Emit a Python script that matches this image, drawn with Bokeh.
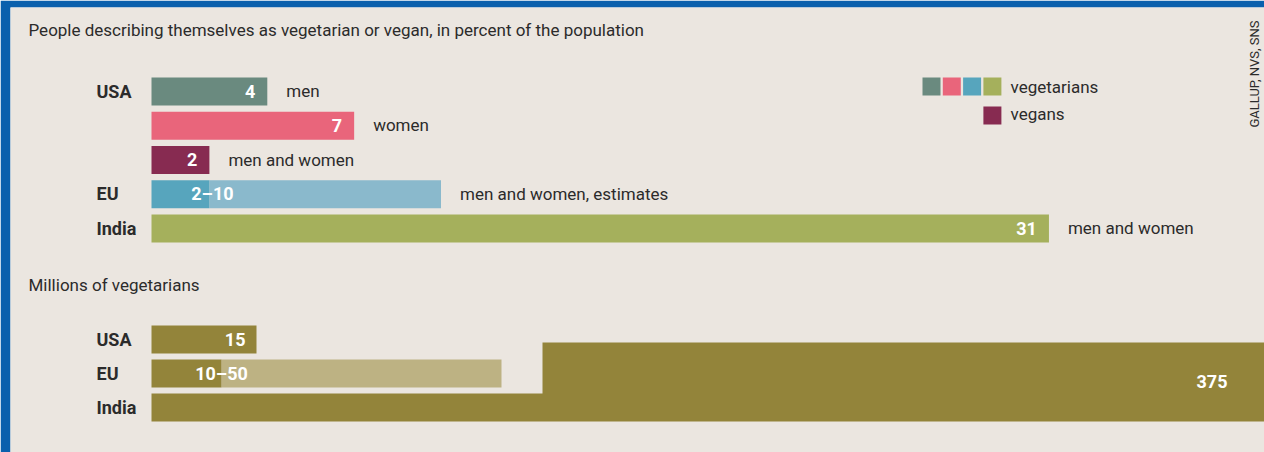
from bokeh.plotting import figure
from bokeh.models import ColumnDataSource, Range1d
from bokeh.core.properties import value
from bokeh.embed import file_html
from bokeh.resources import INLINE

# ---------------- data ----------------
title_text = "People describing themselves as vegetarian or vegan, in percent of the population"
subtitle_text = "Millions of vegetarians"
source_text = "GALLUP, NVS, SNS"

pct_rows = ["USA", "", "", "EU", "India"]
pct_groups = ["men", "women", "men and women", "men and women, estimates", "men and women"]
pct_low = [4, 7, 2, 2, 31]
pct_high = [4, 7, 2, 10, 31]
pct_labels = ["4", "7", "2", "2\u201310", "31"]

mil_rows = ["USA", "EU", "India"]
mil_low = [15, 10, 375]
mil_high = [15, 50, 375]
mil_labels = ["15", "10\u201350", "375"]

legend_labels = ["vegetarians", "vegans"]

# ---------------- style / layout ----------------
BG = "#ebe6e0"
BLUE = "#0a60ad"
TXT = "#2b2b2b"
FONT = value("Roboto")
LBL = "17px"
BOLD = "18px"
pct_dark = ["#6a8a7f", "#e9657b", "#872b51", "#57a5bd", "#a5b05c"]
pct_light = ["#6a8a7f", "#e9657b", "#872b51", "#8ab9cc", "#a5b05c"]
veg_colors = ["#6a8a7f", "#e9657b", "#57a5bd", "#a5b05c"]
OLIVE = "#93843a"
OLIVE_L = "#bdb283"

W, H = 1264, 452
BORDER_L, BORDER_T = 10, 7
X0 = 151            # page x of the value 0
PX_PCT = 28.95      # px per percent
PX_MIL = 7.0        # px per million
FRAME_L = BORDER_L
FRAME_R = W
DY = -0.5           # text baseline relative to row centre (after renderer shift)

BAR_H = 28
ROW1_Y0, ROW1_STEP = 91, 34.25
ROW2_Y0, ROW2_STEP = 339, 34

p = figure(width=W, height=H, output_backend="svg", toolbar_location=None,
           x_range=Range1d((FRAME_L - X0) / PX_PCT, (FRAME_R - X0) / PX_PCT),
           y_range=Range1d(H, BORDER_T),
           x_axis_location=None, y_axis_location=None,
           min_border_left=BORDER_L, min_border_right=0,
           min_border_top=BORDER_T, min_border_bottom=0,
           background_fill_color=BG, border_fill_color=BLUE,
           outline_line_color=None)
p.xgrid.visible = False
p.ygrid.visible = False
p.extra_x_ranges = {"mil": Range1d((FRAME_L - X0) / PX_MIL, (FRAME_R - X0) / PX_MIL)}

# ---------- section 1: percent ----------
y1 = [ROW1_Y0 + i * ROW1_STEP for i in range(len(pct_rows))]
src1 = ColumnDataSource(dict(y=y1, ty=[v + DY for v in y1], low=pct_low, high=pct_high,
                             zero=[0] * len(y1), dark=pct_dark, light=pct_light,
                             lab=pct_labels, grp=pct_groups, row=pct_rows))
p.hbar(y="y", left="low", right="high", height=BAR_H, fill_color="light",
       line_color=None, source=src1)
p.hbar(y="y", left="zero", right="low", height=BAR_H, fill_color="dark",
       line_color=None, source=src1)

# value labels
single = [i for i in range(len(y1)) if pct_low[i] == pct_high[i]]
rng = [i for i in range(len(y1)) if pct_low[i] != pct_high[i]]
p.text(x=[pct_high[i] for i in single], y=[y1[i] + DY for i in single],
       text=[pct_labels[i] for i in single], text_align="right",
       text_baseline="alphabetic", x_offset=-12, text_color="white",
       text_font=FONT, text_font_style="bold", text_font_size=BOLD)
p.text(x=[pct_low[i] for i in rng], y=[y1[i] + DY for i in rng],
       text=[pct_labels[i] for i in rng], text_align="center",
       text_baseline="alphabetic", x_offset=3, text_color="white",
       text_font=FONT, text_font_style="bold", text_font_size=BOLD)
# group labels
p.text(x="high", y="ty", text="grp", source=src1, x_offset=19,
       text_align="left", text_baseline="alphabetic", text_color=TXT,
       text_font=FONT, text_font_size=LBL)
# row labels
p.text(x="zero", y="ty", text="row", source=src1, x_offset=-55,
       text_align="left", text_baseline="alphabetic", text_color=TXT,
       text_font=FONT, text_font_style="bold", text_font_size=BOLD)

# ---------- section 2: millions ----------
y2 = [ROW2_Y0 + i * ROW2_STEP for i in range(len(mil_rows))]
xend = (FRAME_R + 20 - X0) / PX_MIL
fold_x = (542 - X0) / PX_MIL
for i in range(len(mil_rows)):
    if mil_high[i] * PX_MIL <= (FRAME_R - X0):
        p.hbar(y=[y2[i]], left=[mil_low[i]], right=[mil_high[i]], height=BAR_H,
               fill_color=OLIVE_L, line_color=None, x_range_name="mil")
        p.hbar(y=[y2[i]], left=[0], right=[mil_low[i]], height=BAR_H,
               fill_color=OLIVE, line_color=None, x_range_name="mil")
    else:
        # bar too long for the page: folded into an L shape
        top = y2[i] - BAR_H / 2
        bot = y2[i] + BAR_H / 2
        fold_top = y2[i - 1] - 31
        p.patch(x=[0, xend, xend, fold_x, fold_x, 0],
                y=[bot, bot, fold_top, fold_top, top, top],
                fill_color=OLIVE, line_color=None, x_range_name="mil")

for i in range(len(mil_rows)):
    if mil_low[i] == mil_high[i] and mil_high[i] * PX_MIL <= (FRAME_R - X0):
        p.text(x=[mil_high[i]], y=[y2[i] + DY], text=[mil_labels[i]],
               text_align="right", text_baseline="alphabetic", x_offset=-11,
               text_color="white", text_font=FONT, text_font_style="bold",
               text_font_size=BOLD, x_range_name="mil")
    elif mil_low[i] != mil_high[i]:
        p.text(x=[mil_low[i]], y=[y2[i] + DY], text=[mil_labels[i]],
               text_align="center", text_baseline="alphabetic", x_offset=0,
               text_color="white", text_font=FONT, text_font_style="bold",
               text_font_size=BOLD, x_range_name="mil")
    else:
        p.text(x=[(FRAME_R - X0) / PX_MIL], y=[y2[i - 1] + 8.5 + DY], text=[mil_labels[i]],
               text_align="right", text_baseline="alphabetic", x_offset=-37,
               text_color="white", text_font=FONT, text_font_style="bold",
               text_font_size=BOLD, x_range_name="mil")

p.text(x=[0] * len(y2), y=[v + DY for v in y2], text=mil_rows, x_offset=-55,
       text_align="left", text_baseline="alphabetic", text_color=TXT,
       text_font=FONT, text_font_style="bold", text_font_size=BOLD,
       x_range_name="mil")

# ---------- titles ----------
p.text(x=[0], y=[29.5], text=[title_text], x_offset=28 - X0, text_align="left",
       text_baseline="alphabetic", text_color=TXT, text_font=FONT,
       text_font_size=LBL)
p.text(x=[0], y=[284.5], text=[subtitle_text], x_offset=28 - X0, text_align="left",
       text_baseline="alphabetic", text_color=TXT, text_font=FONT,
       text_font_size=LBL)
p.text(x=[(FRAME_R - X0) / PX_PCT], y=[73.5], text=[source_text], x_offset=-10,
       angle=1.5707963, text_align="center", text_baseline="middle",
       text_color=TXT, text_font=FONT, text_font_size="13px")

# ---------- legend ----------
def pct_of(px):
    return (px - X0) / PX_PCT

lx = [pct_of(931 + 20.3 * k) for k in range(len(veg_colors))]
p.rect(x=lx, y=[86] * len(veg_colors), width=18, height=18, width_units="screen",
       height_units="screen", fill_color=veg_colors, line_color=None)
p.rect(x=[lx[-1]], y=[115], width=18, height=18, width_units="screen",
       height_units="screen", fill_color="#872b51", line_color=None)
p.text(x=[pct_of(1010)] * 2, y=[86.5, 113], text=legend_labels, text_align="left",
       text_baseline="alphabetic", text_color=TXT, text_font=FONT,
       text_font_size=LBL)

open("out.html", "w").write(file_html(p, INLINE))
